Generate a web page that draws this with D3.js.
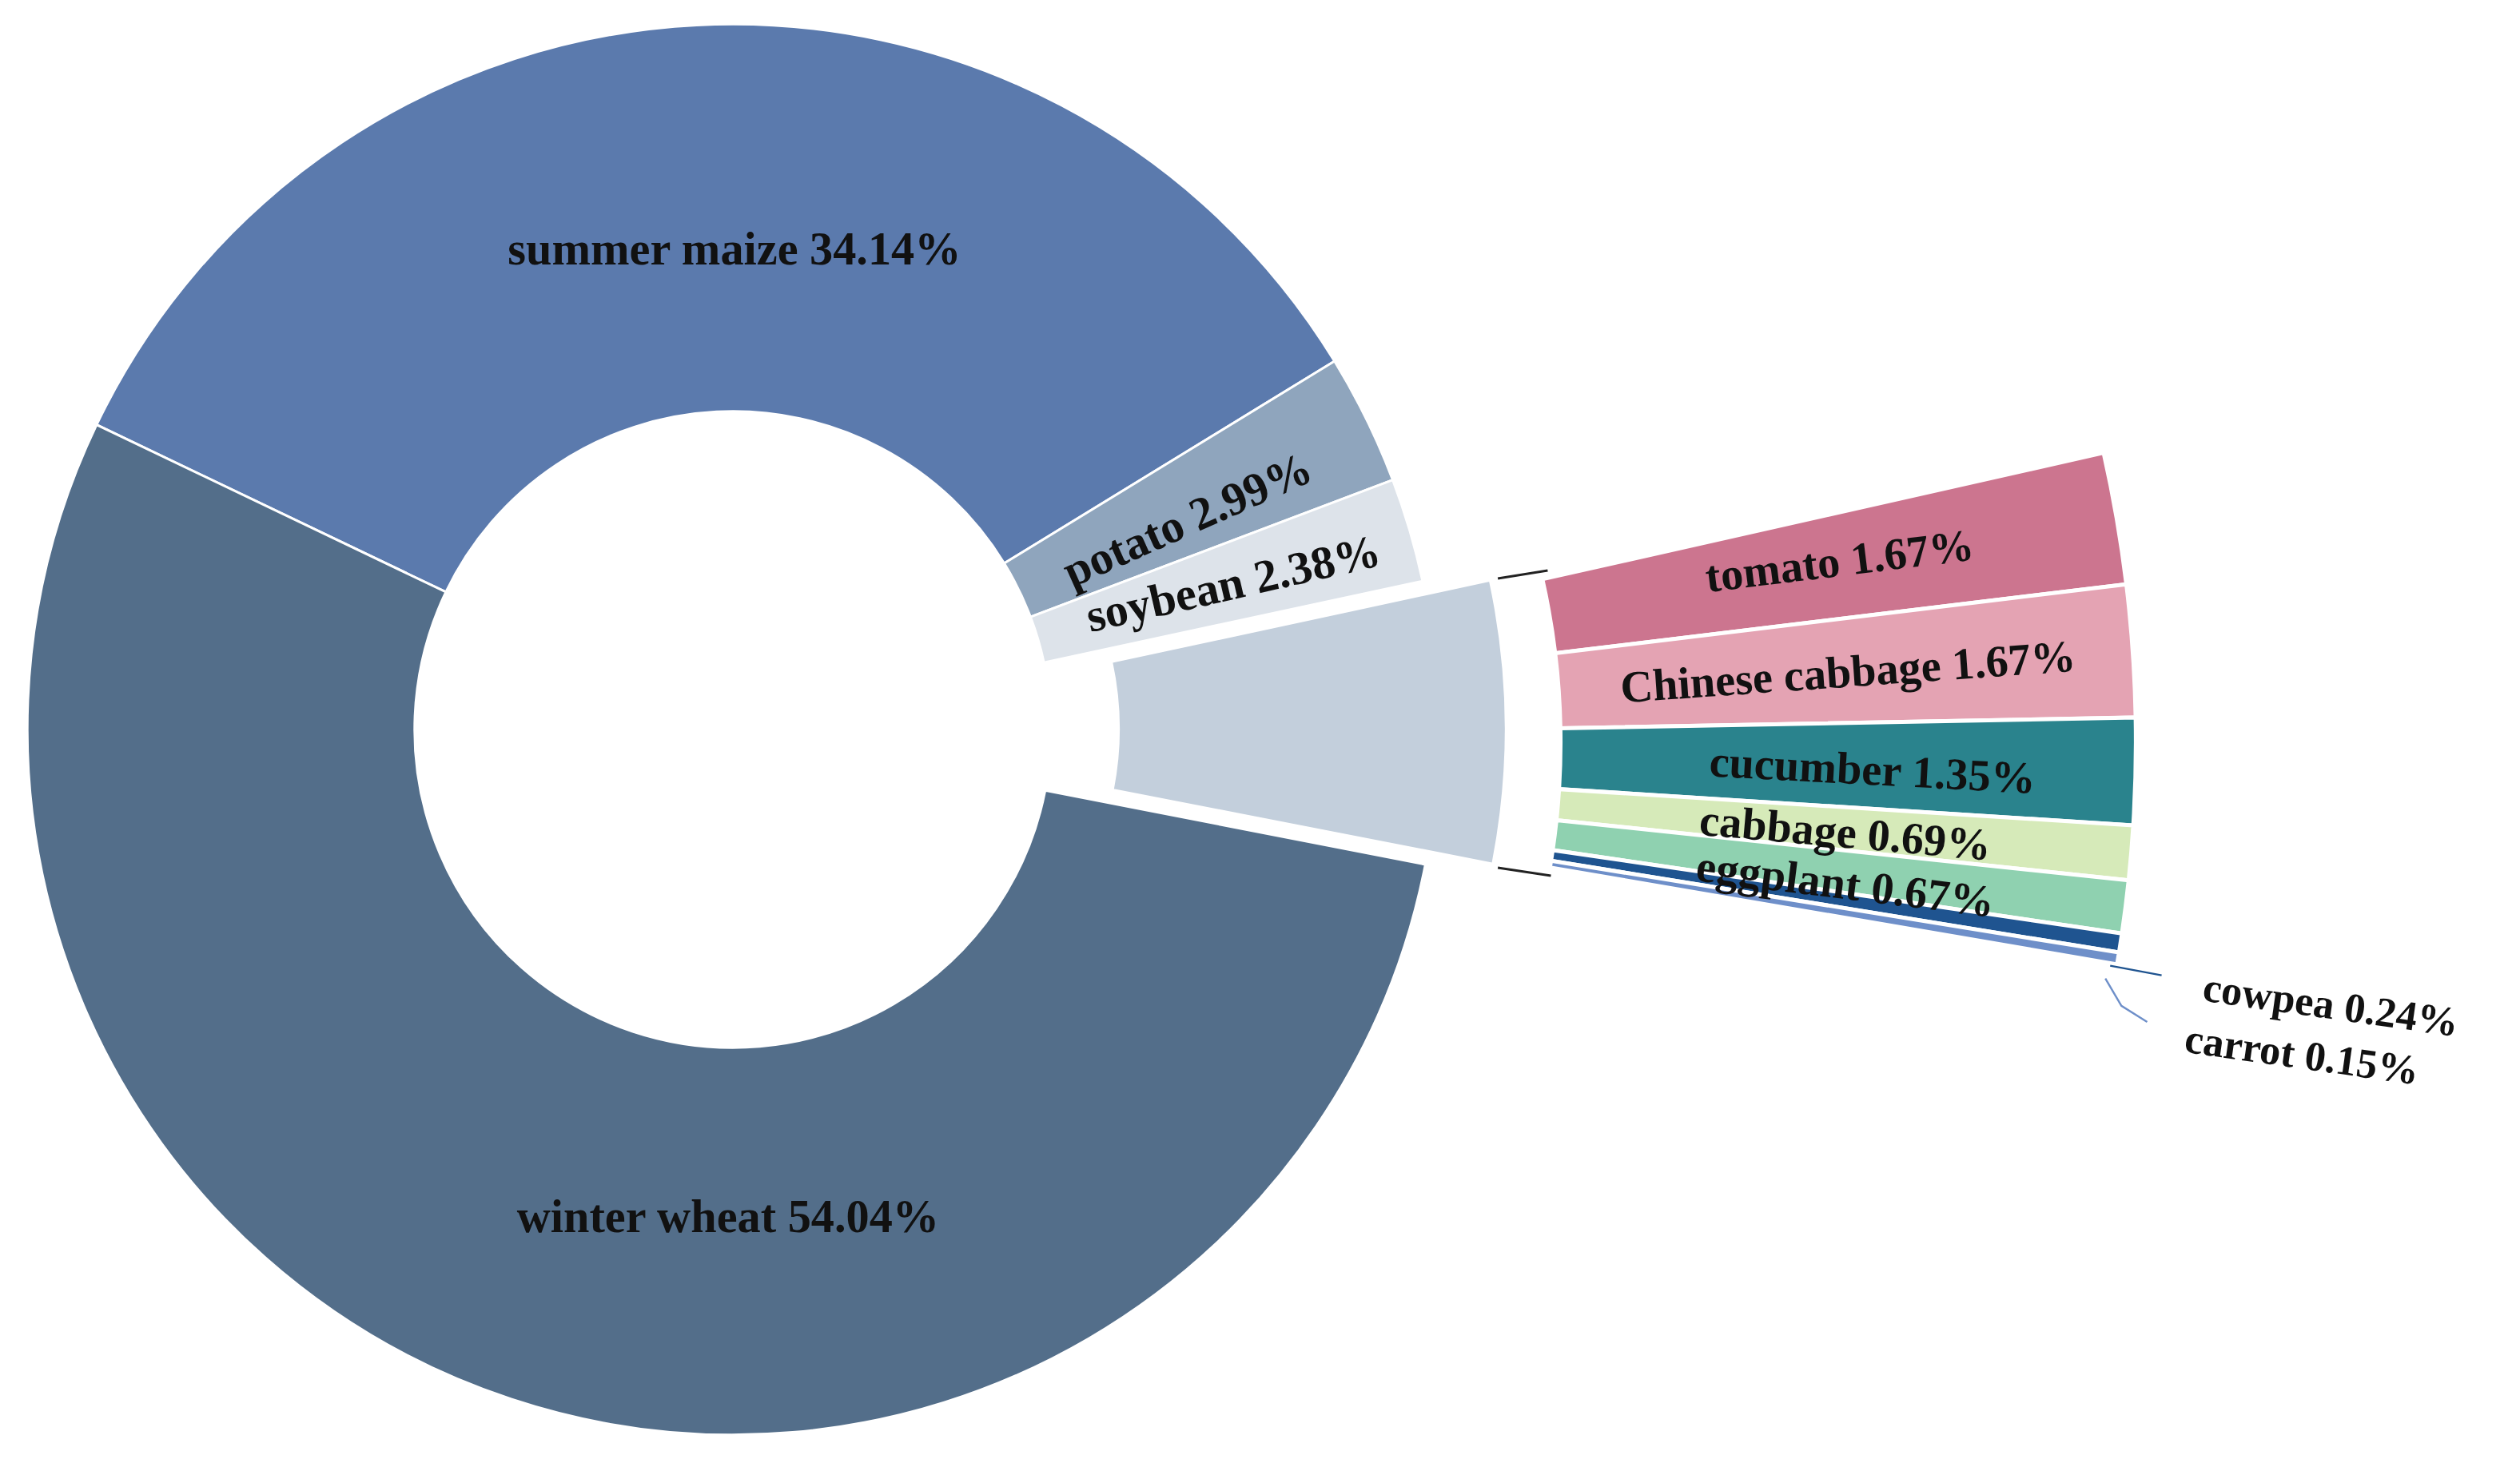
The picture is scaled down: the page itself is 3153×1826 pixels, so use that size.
<!DOCTYPE html>
<html><head><meta charset="utf-8">
<script src="https://cdn.jsdelivr.net/npm/d3@7"></script>
<style>body{margin:0;background:#fff}</style></head>
<body><svg id="c" width="3153" height="1826" viewBox="0 0 1568 908"></svg>
<script>
const mainCats = ["winter wheat","summer maize","potato","soybean","vegetables"];
const mainVals = [54.04,34.14,2.99,2.38,6.44];
const mainCols = ["#536e8a","#5b7aad","#8fa5bd","#dde3ea","#c3cfdc"];
const vegCats = ["tomato","Chinese cabbage","cucumber","cabbage","eggplant","cowpea","carrot"];
const vegVals = [1.67,1.67,1.35,0.69,0.67,0.24,0.15];
const vegCols = ["#cc758f","#e4a3b3","#2a838d","#d6eab9","#8fd1b0","#1f5490","#6e8fc9"];

const svg = d3.select("#c");
const deg = Math.PI/180;
const cx=456, cy=454, R=439, r0=198;
const pie = d3.pie().sort(null).startAngle(-64.4*deg).endAngle(295.6*deg);
// order starting from maize going clockwise
const order=[1,2,3,4,0];
const arcsData = pie(order.map(i=>mainVals[i]));
const arc = d3.arc().innerRadius(r0).outerRadius(R);
const g = svg.append("g").attr("transform",`translate(${cx},${cy})`);
const font = "'Liberation Serif','Times New Roman',serif";
arcsData.forEach((a,k)=>{
  const i=order[k];
  let off=0; if(i===4) off=42;
  const mid=(a.startAngle+a.endAngle)/2;
  g.append("path").attr("d",arc(a)).attr("fill",mainCols[i]).attr("stroke","#fff").attr("stroke-width",1.5)
   .attr("transform",`translate(${off*Math.sin(mid)},${-off*Math.cos(mid)})`);
});
// main labels
function lab(x,y,t,rot,size){
  svg.append("text").attr("x",x).attr("y",y).attr("transform",`rotate(${rot},${x},${y})`)
   .attr("text-anchor","middle").attr("dominant-baseline","middle")
   .attr("font-family",font).attr("font-weight","bold").attr("font-size",size||29).attr("fill","#111").text(t);
}
lab(457,158,`${mainCats[1]} ${mainVals[1].toFixed(2)}%`,0);
lab(453,760,`${mainCats[0]} ${mainVals[0].toFixed(2)}%`,0);
lab(740,326,`${mainCats[2]} ${mainVals[2].toFixed(2)}%`,-24);
lab(768,366,`${mainCats[3]} ${mainVals[3].toFixed(2)}%`,-13);

// vegetable bar-of-pie as annular sector
const vx=509, vy=462;
const vpie = d3.pie().sort(null).startAngle(77.3*deg).endAngle(99.7*deg);
const vArcs = vpie(vegVals);
const varc = d3.arc().innerRadius(462).outerRadius(820);
const vg = svg.append("g").attr("transform",`translate(${vx},${vy})`);
vArcs.forEach((a,i)=>{
  vg.append("path").attr("d",varc(a)).attr("fill",vegCols[i]).attr("stroke","#fff").attr("stroke-width",2.5);
});
// connectors
svg.append("line").attr("x1",932).attr("y1",360).attr("x2",963).attr("y2",355).attr("stroke","#222").attr("stroke-width",1.5);
svg.append("line").attr("x1",932).attr("y1",540).attr("x2",965).attr("y2",545).attr("stroke","#222").attr("stroke-width",1.5);
const vlab=[[1145,352,-7],[1150,421,-4],[1165,482,3],[1148,521,5],[1148,553,7],[1450,628,8],[1432,659,8]];
vArcs.forEach((a,i)=>{
  const [x,y,rot]=vlab[i];
  lab(x,y,`${vegCats[i]} ${vegVals[i].toFixed(2)}%`,rot,i<5?28:26);
});
svg.append("polyline").attr("points","1313,601 1345,607").attr("fill","none").attr("stroke","#1f5490").attr("stroke-width",1.2);
svg.append("polyline").attr("points","1310,609 1320,626 1336,636").attr("fill","none").attr("stroke","#6e8fc9").attr("stroke-width",1.2);
</script></body></html>
